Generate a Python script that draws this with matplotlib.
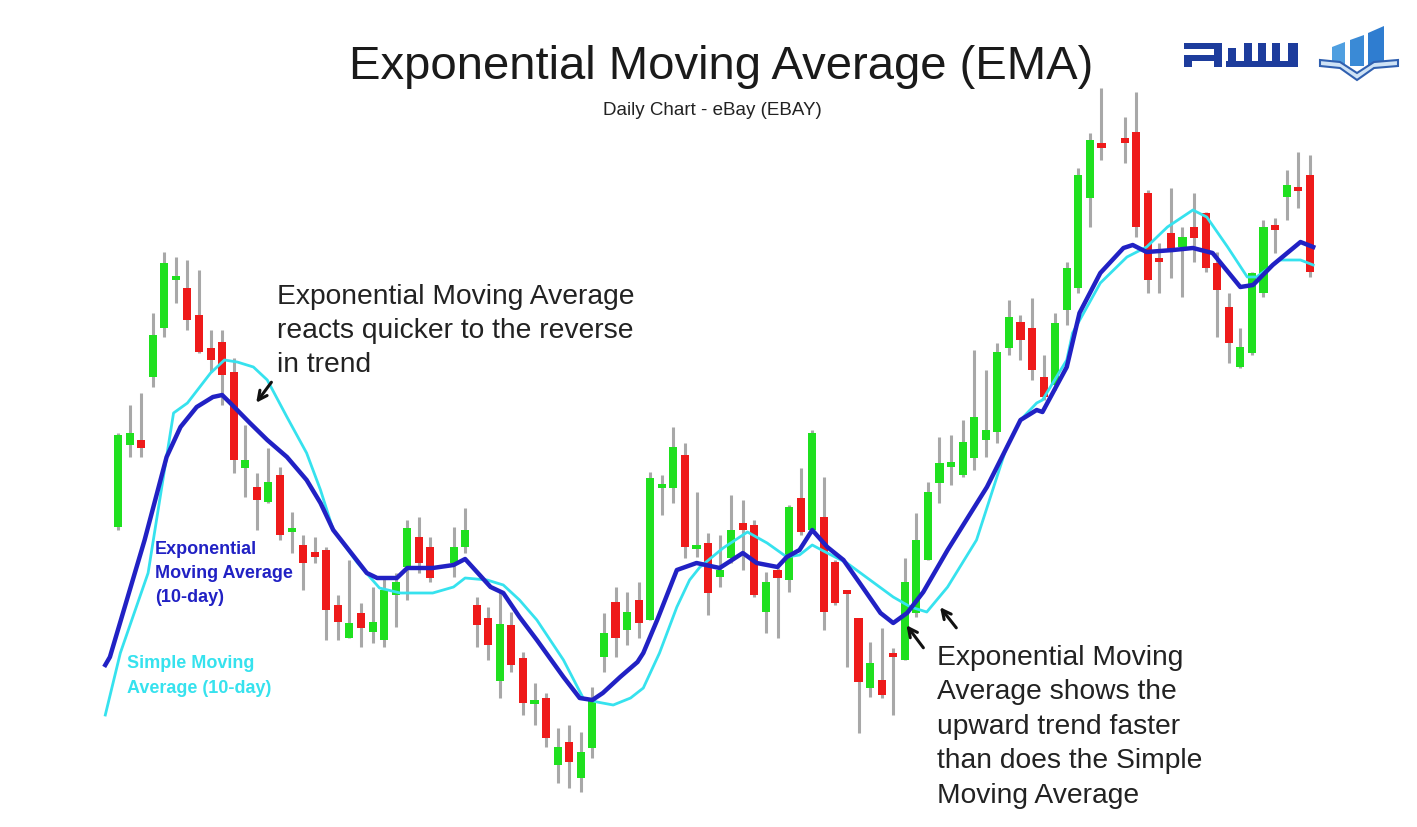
import matplotlib.pyplot as plt
import numpy as np
from matplotlib.patches import Polygon, Rectangle

plt.rcParams["font.family"] = ["Liberation Sans", "DejaVu Sans"]

# daily eBay candles (day index; two holidays skipped)
day = list(range(0, 28)) + list(range(29, 86)) + list(range(87, 104))
open_ = [
    47.3, 55.5, 56.0, 62.3, 67.2, 72.0, 71.2, 68.5, 65.2, 65.8,
    62.8, 53.2, 51.3, 49.8, 52.5, 46.9, 45.5, 44.8, 45.0, 39.5,
    36.2, 38.7, 36.8, 36.0, 40.5, 43.3, 46.3, 45.3,
    43.7, 45.3, 39.5, 38.2, 31.9, 37.5, 34.2, 29.7, 30.2, 23.5, 25.8,
    22.2, 25.2, 34.3, 39.8, 37.0, 40.0, 38.0, 51.2, 51.2, 54.5,
    45.2, 45.7, 42.3, 44.2, 47.7, 47.5, 38.8, 43.0, 42.0, 50.2,
    47.0, 48.3, 43.8, 40.9, 38.2, 31.2, 32.0, 34.6, 34.0, 38.7,
    44.0, 51.7, 53.3, 52.5, 54.2, 56.0, 56.8, 65.2, 67.8, 67.2,
    62.3, 61.5, 69.0, 71.2, 80.2, 85.7,
    86.2, 86.8, 80.7, 74.1, 76.7, 75.3, 77.3, 78.7, 73.7, 69.3, 63.3, 64.7, 70.7,
    77.5, 80.3, 81.3, 82.5,
]
high = [
    56.7, 59.5, 60.7, 68.7, 74.8, 74.3, 74.0, 73.0, 67.0, 67.0,
    64.2, 57.5, 52.7, 55.2, 53.3, 48.8, 46.5, 46.3, 45.3, 40.5,
    44.0, 39.7, 41.3, 42.3, 42.7, 48.0, 48.3, 46.3,
    47.3, 49.2, 40.3, 39.3, 40.8, 38.8, 34.8, 31.7, 30.7, 27.2, 27.5,
    26.8, 31.3, 38.7, 41.3, 40.8, 41.8, 52.8, 52.5, 57.3, 55.7,
    50.8, 46.7, 46.5, 50.5, 50.0, 48.0, 42.8, 43.2, 49.5, 53.2,
    57.0, 52.3, 44.0, 41.0, 38.2, 35.8, 37.2, 35.2, 44.2, 48.7,
    51.8, 56.3, 56.5, 58.0, 65.0, 63.0, 65.7, 70.0, 68.5, 70.2,
    64.5, 68.7, 73.8, 83.2, 86.7, 91.2,
    88.3, 90.8, 81.0, 75.7, 81.2, 77.3, 80.7, 78.8, 74.8, 70.7, 67.2, 72.8, 78.0,
    78.2, 83.0, 84.8, 84.5,
]
low = [
    47.0, 54.3, 54.3, 61.3, 66.3, 69.7, 67.0, 64.7, 62.8, 59.5,
    52.7, 50.3, 47.0, 49.7, 46.0, 44.7, 41.0, 43.7, 36.0, 36.0,
    36.2, 35.3, 35.7, 35.3, 37.3, 40.0, 42.7, 41.8,
    42.3, 44.7, 35.3, 34.0, 30.2, 32.8, 28.5, 27.5, 25.3, 21.7, 21.2,
    20.8, 24.2, 32.8, 34.3, 35.5, 36.2, 38.0, 48.5, 49.7, 44.2,
    44.3, 38.5, 41.3, 43.7, 43.0, 40.3, 36.7, 36.2, 40.8, 46.5,
    46.7, 37.0, 39.5, 33.3, 26.7, 30.3, 30.2, 28.5, 34.0, 38.3,
    44.0, 49.7, 51.5, 52.3, 53.0, 54.3, 55.7, 64.5, 64.0, 62.0,
    60.0, 61.0, 67.5, 70.7, 77.3, 84.0,
    83.7, 76.3, 70.7, 70.7, 72.2, 70.3, 73.8, 72.8, 66.3, 63.7, 63.2, 64.5, 70.3,
    74.7, 78.0, 79.2, 72.3,
]
close = [
    56.5, 56.7, 55.2, 66.5, 73.7, 72.4, 68.0, 64.8, 64.0, 62.5,
    54.0, 54.0, 50.0, 51.8, 46.5, 47.1, 43.7, 44.3, 39.0, 37.8,
    37.7, 37.2, 37.8, 41.0, 41.8, 47.2, 43.7, 42.2,
    45.3, 47.0, 37.5, 35.5, 37.6, 33.5, 29.7, 29.9, 26.2, 25.3, 23.8,
    24.8, 30.0, 36.7, 36.2, 38.8, 37.7, 52.2, 51.6, 55.3, 45.3,
    45.4, 40.7, 43.0, 47.0, 47.0, 40.5, 41.8, 42.2, 49.3, 46.8,
    56.7, 38.8, 39.7, 40.7, 31.8, 33.7, 30.5, 34.4, 41.8, 46.0,
    50.8, 53.7, 53.8, 55.8, 58.3, 57.0, 64.8, 68.3, 66.0, 63.0,
    60.3, 67.7, 73.2, 82.5, 86.0, 85.2,
    85.7, 77.3, 72.0, 73.9, 75.0, 76.3, 76.2, 73.2, 71.0, 65.7, 65.3, 72.7, 77.3,
    77.0, 81.5, 81.0, 72.8,
]

# 10-day EMA as drawn on the chart
ema_day = [
    -1.1, -0.7, 2.3, 4.2, 5.4, 6.8, 8.2, 9.0, 9.7, 11.4, 12.9, 14.6, 16.3, 17.5,
    18.6, 21.5, 22.4, 24.1, 25.0, 27.2, 29.0, 30.0, 32.2, 33.3, 34.7, 36.2, 38.5,
    39.9, 41.0, 41.9, 43.4, 44.9, 45.4, 46.6, 48.3, 50.0, 52.0, 54.0, 55.2, 57.0,
    57.8, 58.9, 60.0, 61.3, 62.7, 64.1, 65.9, 67.0, 68.2, 69.6, 71.7, 75.1, 78.0,
    79.4, 79.9, 82.0, 83.1, 84.9, 86.9, 87.7, 88.9, 91.2, 92.9, 94.6, 97.0, 98.1,
    99.8, 102.2, 103.3,
]
ema_val = [
    33.5, 34.3, 46.0, 54.3, 57.3, 59.3, 60.3, 60.5, 59.7, 57.7, 56.0, 54.3, 52.0, 49.7,
    47.0, 42.7, 42.2, 42.2, 43.2, 43.2, 43.5, 44.1, 41.3, 40.7, 38.3, 36.0, 32.3,
    30.2, 30.0, 30.7, 32.3, 33.8, 34.7, 38.0, 43.0, 43.7, 43.2, 44.7, 43.7, 43.3,
    44.3, 45.0, 47.0, 45.3, 44.0, 41.7, 38.7, 37.7, 38.7, 40.8, 45.0, 51.3, 58.0,
    59.0, 58.8, 63.3, 68.7, 72.7, 75.2, 75.5, 74.8, 75.0, 75.2, 74.7, 71.3, 71.5,
    73.5, 75.8, 75.3,
]
# 10-day SMA as drawn on the chart
sma_day = [
    -1.1, 0.2, 2.6, 4.8, 6.0, 8.0, 9.2, 10.3, 11.7, 12.9, 14.6, 16.3, 17.5, 18.6,
    20.7, 22.6, 24.4, 27.2, 29.0, 30.0, 31.9, 33.3, 34.7, 36.2, 38.5, 40.2, 41.4,
    42.8, 44.3, 45.4, 46.8, 48.3, 49.4, 50.3, 52.3, 54.4, 56.1, 57.8, 58.9, 60.0,
    61.3, 63.0, 65.0, 67.0, 68.5, 69.9, 71.7, 74.2, 76.8, 78.0, 79.4, 79.9, 82.0,
    82.5, 84.9, 87.2, 88.9, 90.7, 92.9, 94.1, 95.9, 97.6, 98.4, 100.4, 102.2, 103.3,
]
sma_val = [
    28.5, 34.7, 42.7, 58.7, 59.7, 62.7, 64.0, 63.8, 63.3, 62.0, 58.3, 54.7, 51.0, 47.0,
    43.7, 41.2, 40.7, 40.7, 41.3, 42.2, 42.0, 41.5, 40.0, 38.0, 34.0, 30.2, 29.8,
    29.5, 30.2, 31.2, 34.7, 39.3, 42.0, 43.3, 45.2, 46.8, 45.7, 44.3, 44.5, 45.5,
    44.7, 43.7, 42.0, 40.3, 39.3, 38.8, 41.3, 46.0, 55.3, 58.0, 59.7, 60.0, 64.0,
    66.7, 71.7, 74.3, 75.3, 77.3, 79.0, 78.3, 75.3, 72.3, 72.3, 74.0, 74.0, 73.5,
]

GREEN = "#1fe01f"
RED = "#ee1a1a"
WICK = "#a8a8a8"
EMA_C = "#2121c4"
SMA_C = "#36e2ee"

fig = plt.figure(figsize=(14.17, 8.27), dpi=100)
ax = fig.add_axes([0, 0, 1, 1])
ax.set_xlim(-10.2, 112.27)
ax.set_ylim(17.3, 100)
ax.axis("off")

d = np.array(day)
o = np.array(open_)
c = np.array(close)
up = c >= o
body_lo = np.minimum(o, c)
body_h = np.abs(c - o)
tiny = body_h < 0.4
body_lo = np.where(tiny, (o + c) / 2 - 0.2, body_lo)
body_h = np.where(tiny, 0.4, body_h)

ax.vlines(d, low, high, color=WICK, lw=2.2, zorder=1)
ax.bar(d, body_h, bottom=body_lo, width=0.7,
       color=np.where(up, GREEN, RED), zorder=2)

ax.plot(sma_day, sma_val, color=SMA_C, lw=2.0, zorder=3, solid_joinstyle="round")
ax.plot(ema_day, ema_val, color=EMA_C, lw=3.2, zorder=4, solid_joinstyle="round")

# titles
fig.text(0.5088, 0.9045, "Exponential Moving Average (EMA)", ha="center",
         va="baseline", fontsize=34, color="#1a1a1a")
fig.text(0.5025, 0.861, "Daily Chart - eBay (EBAY)", ha="center",
         va="baseline", fontsize=13.5, color="#222222")

# annotations (anchored on the baseline of their last line)
fig.text(0.1955, 0.5502,
         "Exponential Moving Average\nreacts quicker to the reverse\nin trend",
         ha="left", va="baseline", fontsize=20.3, linespacing=1.41, color="#222222")
fig.text(0.6613, 0.029,
         "Exponential Moving\nAverage shows the\nupward trend faster\n"
         "than does the Simple\nMoving Average",
         ha="left", va="baseline", fontsize=20.3, linespacing=1.43, color="#222222")
fig.text(0.1094, 0.2721, "Exponential\nMoving Average\n(10-day)", ha="left",
         va="baseline", fontsize=13, fontweight="bold", linespacing=1.54, color=EMA_C)
fig.text(0.0896, 0.162, "Simple Moving\nAverage (10-day)", ha="left",
         va="baseline", fontsize=13, fontweight="bold", linespacing=1.64, color=SMA_C)

arrow = dict(arrowstyle="->", color="#111111", lw=2.2, mutation_scale=16)
ax.annotate("", xy=(11.8, 59.5), xytext=(13.4, 62.0), arrowprops=arrow)
ax.annotate("", xy=(68.0, 37.7), xytext=(69.75, 35.0), arrowprops=arrow)
ax.annotate("", xy=(70.9, 39.5), xytext=(72.6, 37.0), arrowprops=arrow)

# logo watermark (top right)
lg = fig.add_axes([0, 0, 1, 1], facecolor="none")
lg.set_xlim(0, 1417)
lg.set_ylim(827, 0)
lg.axis("off")
navy = "#1d3c9c"
for x0, y0, w, h in [(1184, 43, 38, 6), (1214, 43, 8, 24), (1184, 55, 30, 6),
                     (1184, 61, 8, 6), (1228, 48, 8, 19), (1226, 61, 72, 6),
                     (1244, 43, 8, 24), (1258, 43, 8, 24), (1272, 43, 8, 24),
                     (1288, 43, 10, 24)]:
    lg.add_patch(Rectangle((x0, y0), w, h, color=navy, lw=0))
for pts, col in [([(1332, 47), (1345, 42), (1345, 66), (1332, 66)], "#4f9fe0"),
                 ([(1350, 40), (1364, 35), (1364, 66), (1350, 66)], "#3a8ad6"),
                 ([(1368, 33), (1384, 26), (1384, 66), (1368, 66)], "#2f7dd0")]:
    lg.add_patch(Polygon(pts, closed=True, color=col, lw=0))
lg.add_patch(Polygon([(1320, 60), (1340, 62), (1357, 73), (1374, 62), (1398, 60),
                      (1398, 66), (1374, 68), (1357, 80), (1340, 68), (1320, 66)],
                     closed=True, facecolor="#cfe3f6", edgecolor="#3060b0", lw=1.5))

fig.savefig("out.png", dpi=100)
